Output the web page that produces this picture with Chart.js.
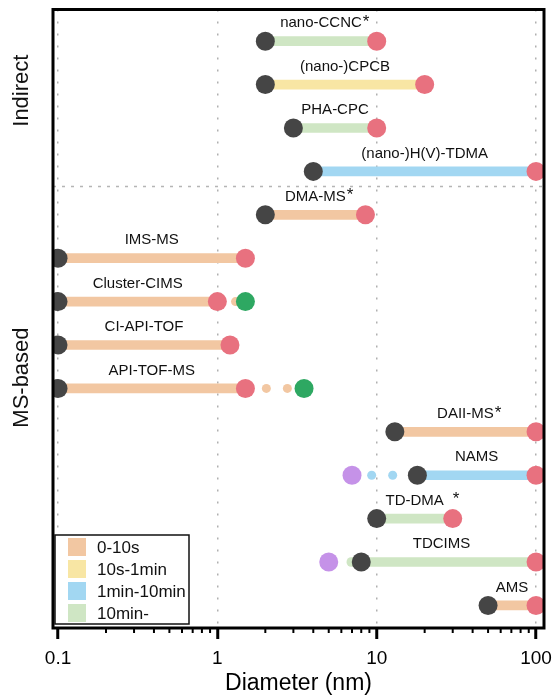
<!DOCTYPE html>
<html>
<head>
<meta charset="utf-8">
<script src="https://cdn.jsdelivr.net/npm/chart.js@4.4.1/dist/chart.umd.min.js"></script>
<style>
  html, body { margin: 0; padding: 0; background: #fff; }
  #wrap { width: 555px; height: 700px; }
</style>
</head>
<body>
<div id="wrap"><canvas id="chart" width="555" height="700"></canvas></div>
<script>
// ── Data ─────────────────────────────────────────────────────────────────────
const instruments  = ['nano-CCNC', '(nano-)CPCB', 'PHA-CPC', '(nano-)H(V)-TDMA',
                      'DMA-MS', 'IMS-MS', 'Cluster-CIMS', 'CI-API-TOF', 'API-TOF-MS',
                      'DAII-MS', 'NAMS', 'TD-DMA', 'TDCIMS', 'AMS'];
const asterisk     = ['*', '', '', '', '*', '', '', '', '', '*', '', ' *', '', ''];
const timeClass    = [3, 1, 3, 2, 0, 0, 0, 0, 0, 0, 2, 3, 3, 0];
const lowerLimit   = [2, 2, 3, 4, 2, 0.1, 0.1, 0.1, 0.1, 13, 18, 10, 8, 50];
const upperLimit   = [10, 20, 10, 100, 8.5, 1.5, 1, 1.2, 1.5, 100, 100, 30, 100, 100];
const barFrom      = [2, 2, 3, 4, 2, 0.1, 0.1, 0.1, 0.1, 13, 18, 10, 6.5, 50];
const extendedUp   = [null, null, null, null, null, null, 1.5, null, 3.5, null, null, null, null, null];
const extendedLow  = [null, null, null, null, null, null, null, null, null, null, 7, null, 5, null];
const gapDots      = [[], [], [], [], [], [], [1.3], [], [2.03, 2.75], [], [9.3, 12.6], [], [], []];

const timeClasses  = ['0-10s', '10s-1min', '1min-10min', '10min-'];
const groups       = ['Indirect', 'MS-based'];
const groupCentre  = [1.14, 7.75];   // row value the group label sits on
const groupBreak   = 3.35;           // row value of the dashed divider

const majorTicks   = [0.1, 1, 10, 100];

// ── Styles ───────────────────────────────────────────────────────────────────
const FONT = '"Liberation Sans", Arial, sans-serif';
const classColors = ['#f2c7a2', '#f8e6a4', '#a2d7f2', '#cfe6c4'];
const COL = { low: '#454545', up: '#e8717f', ext: '#2ea862', lowest: '#c592e8' };

const rows = instruments.map((_, i) => i);
const pts = (arr) => arr.map((v, i) => v == null ? null : { x: v, y: i }).filter(Boolean);

const gapPts = [];
gapDots.forEach((list, i) => list.forEach(v => gapPts.push({ x: v, y: i })));

// ── Plugins ──────────────────────────────────────────────────────────────────
const decor = {
  id: 'decor',
  beforeDatasetsDraw(chart) {
    const { ctx, chartArea: a, scales: { y } } = chart;
    const yy = y.getPixelForValue(groupBreak);
    ctx.save();
    ctx.strokeStyle = '#b5b5b5';
    ctx.lineWidth = 1.5;
    ctx.setLineDash([3, 6]);
    ctx.beginPath(); ctx.moveTo(a.left, yy); ctx.lineTo(a.right, yy); ctx.stroke();
    ctx.restore();
  },
  afterDatasetsDraw(chart) {
    const { ctx, chartArea: a, scales: { x, y } } = chart;
    ctx.save();

    // instrument labels
    ctx.fillStyle = '#111';
    ctx.textBaseline = 'middle';
    rows.forEach(i => {
      const cx = x.getPixelForValue(Math.sqrt(barFrom[i] * upperLimit[i]));
      const cy = y.getPixelForValue(i) - 18;
      ctx.font = '15px ' + FONT;
      ctx.textAlign = 'center';
      ctx.fillText(instruments[i], cx, cy);
      if (asterisk[i]) {
        const w = ctx.measureText(instruments[i]).width;
        const gap = asterisk[i].startsWith(' ') ? 9 : 1;
        ctx.font = '17px ' + FONT;
        ctx.textAlign = 'left';
        ctx.fillText('*', cx + w / 2 + gap, cy - 1);
      }
    });

    // group labels
    ctx.font = '22px ' + FONT;
    ctx.textAlign = 'center';
    groups.forEach((g, k) => {
      ctx.save();
      ctx.translate(22, y.getPixelForValue(groupCentre[k]));
      ctx.rotate(-Math.PI / 2);
      ctx.fillText(g, 0, 0);
      ctx.restore();
    });

    // legend box
    const lx = a.left + 2, ly = a.bottom - 93, lw = 134, lh = 89;
    ctx.fillStyle = '#fff';
    ctx.fillRect(lx, ly, lw, lh);
    ctx.strokeStyle = '#111';
    ctx.lineWidth = 1.5;
    ctx.strokeRect(lx, ly, lw, lh);
    ctx.font = '17px ' + FONT;
    ctx.textAlign = 'left';
    timeClasses.forEach((t, k) => {
      const cy = ly + 12 + k * 22;
      ctx.fillStyle = classColors[k];
      ctx.fillRect(lx + 13, cy - 9, 18, 18);
      ctx.fillStyle = '#111';
      ctx.fillText(t, lx + 42, cy + 1);
    });

    // minor ticks on the x axis
    ctx.strokeStyle = '#000';
    ctx.lineWidth = 2;
    [-1, 0, 1].forEach(d => {
      for (let k = 2; k <= 9; k++) {
        const px = x.getPixelForValue(k * Math.pow(10, d));
        ctx.beginPath(); ctx.moveTo(px, a.bottom); ctx.lineTo(px, a.bottom + 5); ctx.stroke();
      }
    });

    // frame
    ctx.lineWidth = 3;
    ctx.strokeRect(a.left, a.top, a.right - a.left, a.bottom - a.top);
    ctx.restore();
  }
};

// ── Chart ────────────────────────────────────────────────────────────────────
const dot = (data, color, r, order) => ({
  type: 'scatter', data, order, clip: 0,
  backgroundColor: color, borderWidth: 0, pointRadius: r, pointHoverRadius: r, showLine: false,
});

new Chart(document.getElementById('chart'), {
  type: 'scatter',
  data: {
    datasets: [
      {
        type: 'bar', indexAxis: 'y', order: 6, clip: 0,
        data: rows.map(i => ({ x: [barFrom[i], upperLimit[i]], y: i })),
        backgroundColor: rows.map(i => classColors[timeClass[i]]),
        barThickness: 9, borderRadius: 4.5, borderSkipped: false,
      },
      dot(gapPts, ctx => classColors[timeClass[ctx.raw ? ctx.raw.y : 0]], 4.5, 5),
      dot(pts(lowerLimit), COL.low, 9.5, 4),
      dot(pts(upperLimit), COL.up, 9.5, 3),
      dot(pts(extendedUp), COL.ext, 9.5, 2),
      dot(pts(extendedLow), COL.lowest, 9.5, 1),
    ],
  },
  options: {
    responsive: false, animation: false,
    layout: { padding: { left: 53, right: 11, top: 3, bottom: 0 } },
    plugins: { legend: { display: false }, tooltip: { enabled: false } },
    scales: {
      x: {
        type: 'logarithmic', min: 0.093, max: 112.2, position: 'bottom',
        afterBuildTicks: s => { s.ticks = majorTicks.map(v => ({ value: v, major: true })); },
        afterFit: s => { s.height = 72; s.paddingLeft = 0; s.paddingRight = 0; },
        grid: {
          color: '#b0b0b0', lineWidth: 1.5, drawTicks: true,
          tickLength: 11, tickColor: '#000', tickWidth: 3,
        },
        border: { display: false, dash: [2, 10] },
        ticks: {
          color: '#000', padding: 8, maxRotation: 0, autoSkip: false,
          font: { family: FONT, size: 19 },
          callback: v => String(v),
        },
        title: {
          display: true, text: 'Diameter (nm)', color: '#000',
          font: { family: FONT, size: 23 }, padding: { top: 0, bottom: 3 },
        },
      },
      y: {
        type: 'linear', reverse: true, min: -0.73, max: 13.52, display: false, offset: false,
      },
    },
  },
  plugins: [decor],
});
</script>
</body>
</html>
